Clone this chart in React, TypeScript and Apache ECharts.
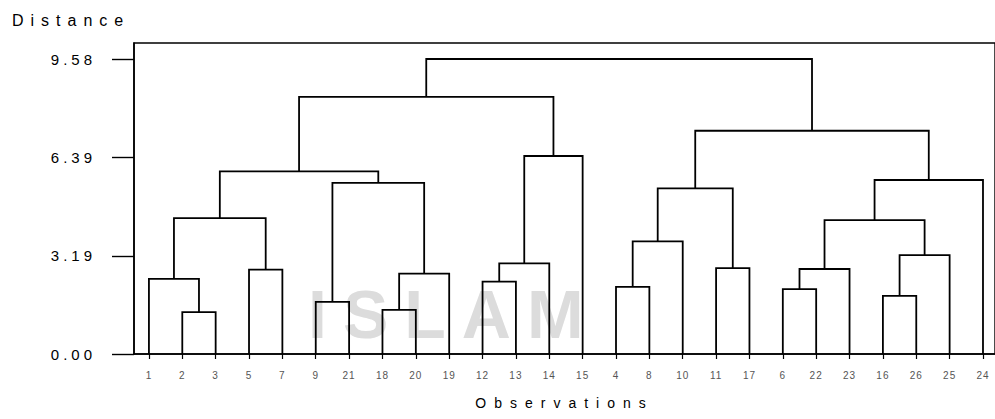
import React, { useEffect, useRef } from "react";
import * as echarts from "echarts";

// Leaf order along the x axis (observation labels)
const leafOrder = ["1", "2", "3", "5", "7", "9", "21", "18", "20", "19", "12", "13", "14", "15", "4", "8", "10", "11", "17", "6", "22", "23", "16", "26", "25", "24"];

// Agglomeration steps: cluster C(i+1) = mergeLeft[i] + mergeRight[i] at mergeHeight[i]
const mergeLeft = ["2", "1", "5", "C2", "9", "18", "C6", "C5", "C4", "12", "C10", "C11", "C9", "4", "C14", "11", "C15", "6", "C18", "16", "C20", "C19", "C22", "C17", "C13"];
const mergeRight = ["3", "C1", "7", "C3", "21", "20", "19", "C7", "C8", "13", "14", "15", "C12", "8", "10", "17", "C16", "22", "23", "26", "25", "C21", "24", "C23", "C24"];
const mergeHeight = [1.36, 2.44, 2.74, 4.41, 1.69, 1.43, 2.61, 5.56, 5.93, 2.35, 2.94, 6.43, 8.35, 2.18, 3.66, 2.79, 5.38, 2.11, 2.76, 1.89, 3.21, 4.35, 5.65, 7.25, 9.58];

// Y tick values
const yTicks = [0, 3.19, 6.39, 9.58];

function buildSegments() {
  const pos: Record<string, { x: number; y: number }> = {};
  leafOrder.forEach((lab, i) => {
    pos[lab] = { x: i + 1, y: 0 };
  });
  const segs: number[][][] = [];
  mergeHeight.forEach((h, i) => {
    const a = pos[mergeLeft[i]];
    const b = pos[mergeRight[i]];
    segs.push([
      [a.x, a.y],
      [a.x, h],
      [b.x, h],
      [b.x, b.y],
    ]);
    pos["C" + (i + 1)] = { x: (a.x + b.x) / 2, y: h };
  });
  return segs;
}

const FONT = "'Liberation Sans', Arial, sans-serif";

export default function App() {
  const ref = useRef<HTMLDivElement>(null);

  useEffect(() => {
    document.body.style.margin = "0";
    if (!ref.current) return;
    const chart = echarts.init(ref.current, null, { renderer: "svg" });
    const segs = buildSegments();
    const leafVals = leafOrder.map((_, i) => i + 1);

    chart.setOption({
      animation: false,
      backgroundColor: "#ffffff",
      grid: {
        left: 134,
        top: 43,
        right: -4,
        bottom: 65,
        show: true,
        borderColor: "#000",
        borderWidth: 1.4,
        backgroundColor: "transparent",
      },
      graphic: [
        {
          type: "text",
          left: 308,
          top: 280,
          z: 0,
          silent: true,
          style: {
            text: "ISLAM",
            font: "bold 68px " + FONT,
            fill: "#dcdcdc",
          },
        },
        {
          type: "text",
          left: 12,
          top: 12,
          silent: true,
          style: {
            text: "Distance",
            font: "16px " + FONT,
            fill: "#000",
          },
        },
      ],
      xAxis: {
        type: "value",
        min: 0.5525,
        max: 26.36,
        name: "Observations",
        nameLocation: "middle",
        nameGap: 42,
        nameTextStyle: { fontFamily: FONT, fontSize: 14, color: "#000" },
        axisLine: { show: true, lineStyle: { color: "#000", width: 1.6 } },
        axisTick: {
          show: true,
          customValues: leafVals,
          length: 5,
          lineStyle: { color: "#000", width: 1.2 },
        },
        axisLabel: {
          show: true,
          customValues: leafVals,
          formatter: (v: number) => leafOrder[Math.round(v) - 1] ?? "",
          fontFamily: FONT,
          fontSize: 10,
          color: "#555",
          margin: 16,
        },
        splitLine: { show: false },
      },
      yAxis: {
        type: "value",
        min: 0,
        max: 10.1,
        axisLine: { show: true, lineStyle: { color: "#000", width: 1.6 } },
        axisTick: {
          show: true,
          customValues: yTicks,
          length: 22,
          lineStyle: { color: "#000", width: 1.4 },
        },
        axisLabel: {
          show: true,
          customValues: yTicks,
          formatter: (v: number) => v.toFixed(2),
          fontFamily: FONT,
          fontSize: 15,
          color: "#000",
          margin: 38,
        },
        splitLine: { show: false },
      },
      series: [
        {
          type: "lines",
          coordinateSystem: "cartesian2d",
          polyline: true,
          silent: true,
          z: 5,
          lineStyle: { color: "#000", width: 1.8, opacity: 1 },
          data: segs.map((c) => ({ coords: c })),
        },
      ],
    });

    const applySpacing = () => {
      const root = ref.current;
      if (!root) return;
      root.querySelectorAll("text").forEach((t) => {
        const s = (t.textContent || "").trim();
        let sp = 0;
        if (s === "Distance") sp = 7;
        else if (s === "Observations") sp = 8;
        else if (s === "ISLAM") sp = 16;
        else if (/^\d\.\d\d$/.test(s)) sp = 4;
        else if (/^\d+$/.test(s)) sp = 1;
        if (sp) t.setAttribute("letter-spacing", sp + "px");
      });
    };
    applySpacing();
    chart.on("finished", applySpacing);

    return () => {
      chart.dispose();
    };
  }, []);

  return <div ref={ref} style={{ width: 995, height: 419 }} />;
}
